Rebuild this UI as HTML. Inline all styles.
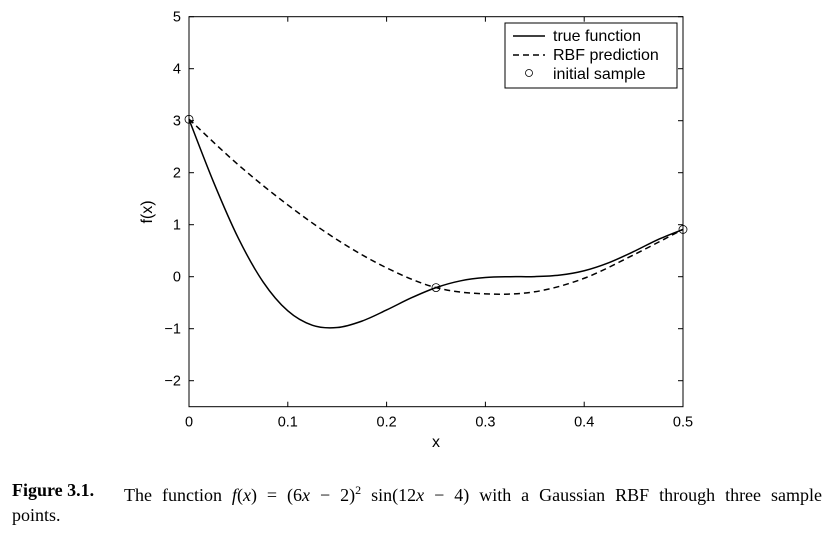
<!DOCTYPE html>
<html><head><meta charset="utf-8"><style>
body{margin:0;background:#fff;width:835px;height:534px;overflow:hidden;position:relative}
svg{position:absolute;left:0;top:0}
.cap{position:absolute;left:12px;top:478px;width:810px;height:52px;font-family:"Liberation Serif",serif;font-size:18px;line-height:25px;color:#000}
.fig{position:absolute;left:0;top:0;white-space:nowrap}
.l1{position:absolute;left:112px;top:0;width:698px;text-align:justify;text-align-last:justify;white-space:nowrap}
.l2{position:absolute;left:0;top:25px}
</style></head><body>
<svg id="chart" width="835" height="470" font-family="Liberation Sans, sans-serif"></svg>
<div class="cap"><b class="fig">Figure&nbsp;3.1.</b><span class="l1">The function <i>f</i>(<i>x</i>) = (6<i>x</i> − 2)<sup style="font-size:12px">2</sup> sin(12<i>x</i> − 4) with a Gaussian RBF through three sample</span><span class="l2">points.</span></div>
<script>
const xTicks=[0,0.1,0.2,0.3,0.4,0.5];
const xTickLabels=["0","0.1","0.2","0.3","0.4","0.5"];
const yTicks=[-2,-1,0,1,2,3,4,5];
const yTickLabels=["\u22122","\u22121","0","1","2","3","4","5"];
const trueX=[0,0.025,0.05,0.075,0.1,0.125,0.15,0.175,0.2,0.225,0.25,0.275,0.3,0.325,0.35,0.375,0.4,0.425,0.45,0.475,0.5];
const trueY=[3.027,1.813,0.738,-0.100,-0.657,-0.935,-0.978,-0.854,-0.640,-0.407,-0.210,-0.079,-0.016,0.000,0.002,0.030,0.115,0.270,0.483,0.717,0.909];
const rbfX=[0,0.05,0.1,0.15,0.2,0.25,0.3,0.35,0.4,0.45,0.5];
const rbfY=[3.03,2.15,1.38,0.71,0.17,-0.21,-0.33,-0.29,-0.03,0.42,0.91];
const sampleX=[0,0.25,0.5];
const sampleY=[3.027,-0.210,0.909];

const L=189,R=683,T=16.7,B=406.7,ymin=-2.5,ymax=5;
const sx=v=>L+(v-0)/(0.5)*(R-L);
const sy=v=>B-(v-ymin)/(ymax-ymin)*(B-T);
const svg=document.getElementById('chart');
const NS='http://www.w3.org/2000/svg';
function mk(t,a,p){const e=document.createElementNS(NS,t);for(const k in a)e.setAttribute(k,a[k]);(p||svg).appendChild(e);return e;}
function smooth(xs,ys){const P=xs.map((x,i)=>[sx(x),sy(ys[i])]);let d=`M${P[0][0]},${P[0][1]}`;
for(let i=0;i<P.length-1;i++){const p0=P[Math.max(0,i-1)],p1=P[i],p2=P[i+1],p3=P[Math.min(P.length-1,i+2)];
d+=` C${p1[0]+(p2[0]-p0[0])/6},${p1[1]+(p2[1]-p0[1])/6} ${p2[0]-(p3[0]-p1[0])/6},${p2[1]-(p3[1]-p1[1])/6} ${p2[0]},${p2[1]}`;}return d;}

const box=mk('rect',{x:L,y:T,width:R-L,height:B-T,fill:'none',stroke:'#000','stroke-width':1});


xTicks.forEach((v,i)=>{const x=sx(v);
 mk('line',{x1:x,x2:x,y1:B,y2:B-5,stroke:'#000'});mk('line',{x1:x,x2:x,y1:T,y2:T+5,stroke:'#000'});
 const t=mk('text',{x:x,y:B+20,'font-size':14.5,'text-anchor':'middle'});t.textContent=xTickLabels[i];
 
 });
yTicks.forEach((v,i)=>{const y=sy(v);
 mk('line',{x1:L,x2:L+5,y1:y,y2:y,stroke:'#000'});mk('line',{x1:R,x2:R-5,y1:y,y2:y,stroke:'#000'});
 const t=mk('text',{x:L-8,y:y+5,'font-size':14.5,'text-anchor':'end'});t.textContent=yTickLabels[i];
 
 });
const xt=mk('text',{x:436,y:447,'font-size':16,'text-anchor':'middle'});xt.textContent='x';


const yt=mk('text',{x:0,y:0,'font-size':16,'text-anchor':'middle',transform:'translate(152,212) rotate(-90)'});yt.textContent='f(x)';



const tl=mk('path',{d:smooth(trueX,trueY),fill:'none',stroke:'#000','stroke-width':1.5});


const rl=mk('path',{d:smooth(rbfX,rbfY),fill:'none',stroke:'#000','stroke-width':1.5,'stroke-dasharray':'6,4'});


sampleX.forEach((v,i)=>{const c=mk('circle',{cx:sx(v),cy:sy(sampleY[i]),r:4,fill:'none',stroke:'#000','stroke-width':0.8});
 
 });

const lg=mk('g',{});


mk('rect',{x:505,y:23,width:172,height:65,fill:'#fff',stroke:'#000'},lg);
mk('line',{x1:513,x2:545,y1:36,y2:36,stroke:'#000','stroke-width':1.5},lg);
mk('line',{x1:513,x2:545,y1:55,y2:55,stroke:'#000','stroke-width':1.5,'stroke-dasharray':'6,4'},lg);
mk('circle',{cx:529,cy:73,r:3.5,fill:'none',stroke:'#000','stroke-width':0.8},lg);
[['true function',41],['RBF prediction',60],['initial sample',79]].forEach(([s,y])=>{const t=mk('text',{x:553,y:y,'font-size':16},lg);t.textContent=s;
 
 });
</script>
</body></html>
